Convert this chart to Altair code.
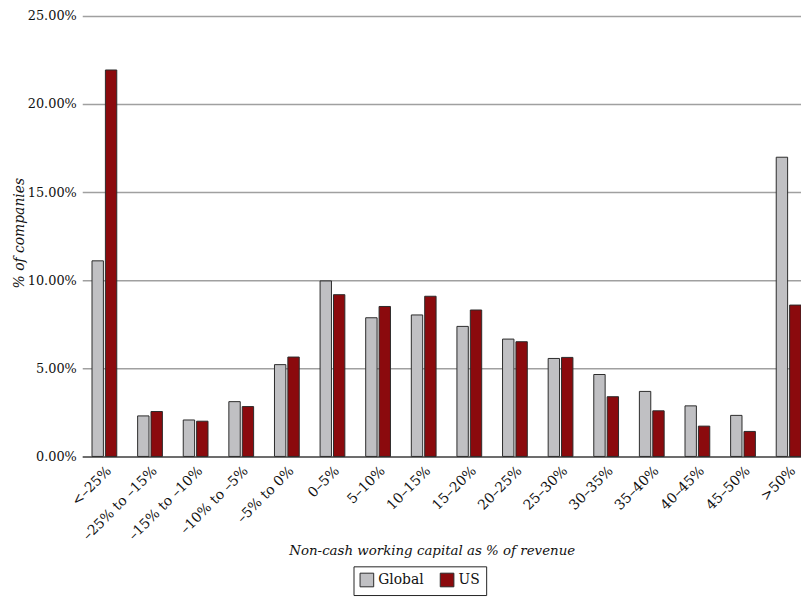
import altair as alt
import pandas as pd

categories = ["<–25%", "–25% to –15%", "–15% to –10%", "–10% to –5%", "–5% to 0%",
              "0–5%", "5–10%", "10–15%", "15–20%", "20–25%", "25–30%", "30–35%",
              "35–40%", "40–45%", "45–50%", ">50%"]
global_vals = [11.1, 2.3, 2.07, 3.11, 5.21, 9.96, 7.87, 8.03, 7.38, 6.66, 5.56, 4.65,
               3.69, 2.87, 2.33, 16.98]
us_vals = [21.93, 2.55, 2.0, 2.83, 5.64, 9.18, 8.51, 9.09, 8.31, 6.51, 5.62, 3.39,
           2.59, 1.72, 1.42, 8.59]
series = ["Global", "US"]
colors = ["#c0c0c3", "#8b0a0d"]
y_ticks = [0, 5, 10, 15, 20, 25]

rows = []
for c, g, u in zip(categories, global_vals, us_vals):
    rows.append({"cat": c, "series": "Global", "value": g})
    rows.append({"cat": c, "series": "US", "value": u})
df = pd.DataFrame(rows)

FONT = "DejaVu Serif"

chart = alt.Chart(df).mark_bar(stroke="#2a2a2a", strokeWidth=1).encode(
    x=alt.X("cat:N", sort=categories,
            scale=alt.Scale(paddingInner=0.457, paddingOuter=0.107, align=1),
            axis=alt.Axis(title="Non-cash working capital as % of revenue",
                          labelAngle=-45, labelFont=FONT, labelFontSize=14,
                          labelColor="#111", labelOverlap=False, labelPadding=7,
                          ticks=False, domainColor="#555", domainWidth=1.5,
                          titleFont=FONT, titleFontSize=13.5, titleFontStyle="italic",
                          titleFontWeight="normal", titleColor="#111",
                          titleX=353, titleY=99, titleBaseline="alphabetic")),
    xOffset=alt.XOffset("series:N", sort=series,
                        scale=alt.Scale(paddingInner=0.15, paddingOuter=0)),
    y=alt.Y("value:Q", scale=alt.Scale(domain=[0, 25], nice=False),
            axis=alt.Axis(title="% of companies", values=y_ticks,
                          labelExpr="format(datum.value, '.2f') + '%'",
                          labelFont=FONT, labelFontSize=13, labelColor="#111",
                          labelPadding=6, ticks=False, domain=False,
                          gridColor="#a0a0a0", gridWidth=1.5,
                          titleFont=FONT, titleFontSize=14, titleFontStyle="italic",
                          titleFontWeight="normal", titleColor="#111",
                          titleX=-63, titleY=219, titleBaseline="middle",
                          titleAngle=-90)),
    color=alt.Color("series:N", sort=series,
                    scale=alt.Scale(domain=series, range=colors),
                    legend=alt.Legend(title=None, orient="none", direction="horizontal",
                                      legendX=274, legendY=556,
                                      strokeColor="#222", padding=6,
                                      symbolType="square", symbolSize=190,
                                      symbolStrokeColor="#2a2a2a", symbolStrokeWidth=1,
                                      labelFont=FONT, labelFontSize=14, labelColor="#111",
                                      labelOffset=4, columnPadding=14)),
).properties(
    width=726, height=445,
    autosize=alt.AutoSizeParams(type="none"),
    padding={"left": 75, "top": 5, "right": 0, "bottom": 139},
).configure_view(stroke=None)

chart.save("out.html", embed_options={"renderer": "svg", "actions": False})
